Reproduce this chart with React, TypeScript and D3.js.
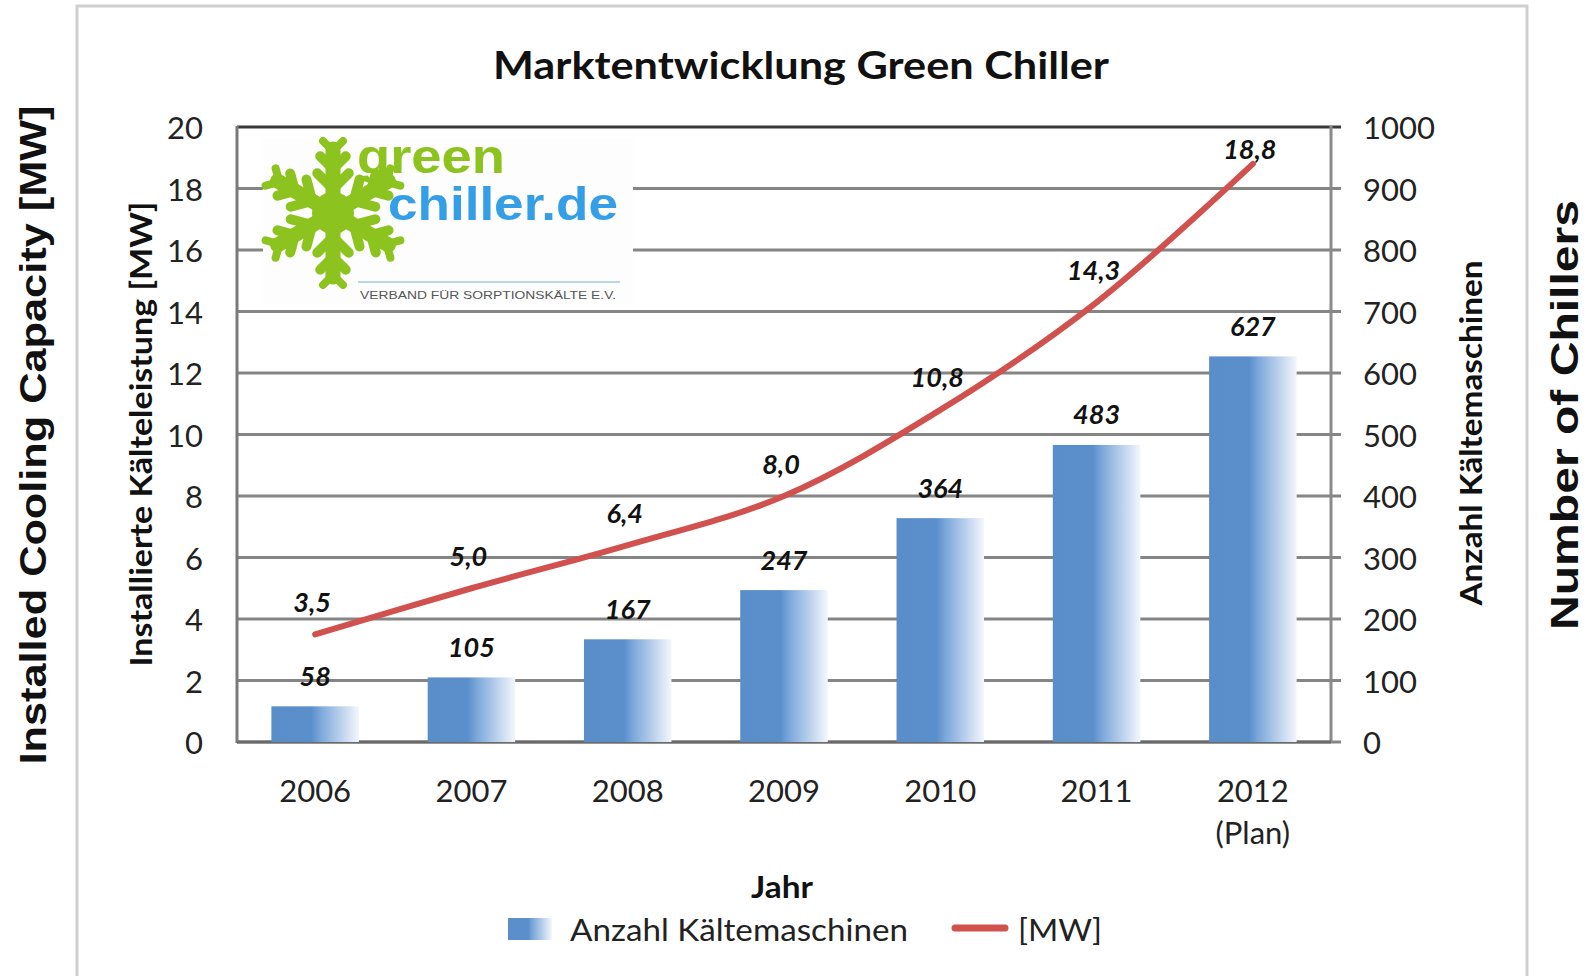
import React, { useRef, useEffect } from 'react';
import * as d3 from 'd3';

const years = ['2006', '2007', '2008', '2009', '2010', '2011', '2012'];
const yearSub = ['', '', '', '', '', '', '(Plan)'];
const chillers = [58, 105, 167, 247, 364, 483, 627];
const capacityMW = [3.5, 5.0, 6.4, 8.0, 10.8, 14.3, 18.8];
const leftTicks = [0, 2, 4, 6, 8, 10, 12, 14, 16, 18, 20];
const rightTicks = [0, 100, 200, 300, 400, 500, 600, 700, 800, 900, 1000];

const W = 1588;
const H = 976;
const FONT = 'Lato, "Open Sans", sans-serif';

const App = () => {
    const svgRef = useRef<SVGSVGElement>(null);

    useEffect(() => {
        const svg = d3.select(svgRef.current);
        svg.selectAll('*').remove();

        const left = 237, right = 1331, top = 127, bottom = 742;

        const x = d3.scaleBand<string>()
            .domain(years)
            .range([left, right])
            .paddingInner(0.44)
            .paddingOuter(0.22);
        const yL = d3.scaleLinear().domain([0, 20]).range([bottom, top]);
        const yR = d3.scaleLinear().domain([0, 1000]).range([bottom, top]);

        // gradient for the bars
        const defs = svg.append('defs');
        const grad = defs.append('linearGradient').attr('id', 'barGrad')
            .attr('x1', '0%').attr('x2', '100%').attr('y1', '0%').attr('y2', '0%');
        grad.append('stop').attr('offset', '0%').attr('stop-color', '#5a8ecb');
        grad.append('stop').attr('offset', '46%').attr('stop-color', '#5b8fcc');
        grad.append('stop').attr('offset', '56%').attr('stop-color', '#7ba7da');
        grad.append('stop').attr('offset', '100%').attr('stop-color', '#f3f7fc');

        // outer frame
        svg.append('rect')
            .attr('x', 77).attr('y', 6)
            .attr('width', 1527 - 77).attr('height', H + 20)
            .attr('fill', '#fff')
            .attr('stroke', '#cfcfcf').attr('stroke-width', 3);

        // gridlines
        svg.append('g').selectAll('line')
            .data(leftTicks)
            .enter().append('line')
            .attr('x1', left).attr('x2', right + 10)
            .attr('y1', d => yL(d)).attr('y2', d => yL(d))
            .attr('stroke', d => d === 20 ? '#3a3a3a' : '#858585')
            .attr('stroke-width', 3);

        // axes
        svg.append('line').attr('x1', left).attr('x2', left)
            .attr('y1', top - 1).attr('y2', bottom + 1)
            .attr('stroke', '#7a7a7a').attr('stroke-width', 3);
        svg.append('line').attr('x1', right).attr('x2', right)
            .attr('y1', top - 1).attr('y2', bottom + 1)
            .attr('stroke', '#8a8a8a').attr('stroke-width', 3);
        svg.append('line').attr('x1', left).attr('x2', right)
            .attr('y1', bottom).attr('y2', bottom)
            .attr('stroke', '#6a6a6a').attr('stroke-width', 3);

        // logo
        const logo = svg.append('g');
        logo.append('rect').attr('x', 263).attr('y', 139)
            .attr('width', 370).attr('height', 165).attr('fill', '#fdfdfd');
        const cx = 333, cy = 213, R = 70;
        const flake = logo.append('g')
            .attr('transform', `translate(${cx},${cy})`)
            .attr('stroke', '#8cc31f').attr('fill', 'none')
            .attr('stroke-linecap', 'round');
        [90, 30, -30, -90, -150, 150].forEach(a => {
            const arm = flake.append('g').attr('transform', `rotate(${-a})`);
            arm.append('line').attr('x1', 0).attr('y1', 0).attr('x2', R - 6).attr('y2', 0)
                .attr('stroke-width', 15);
            [[24, 21], [44, 17]].forEach(([d, l]) => {
                arm.append('path')
                    .attr('d', `M${d + l * 0.75},${-l * 0.75} L${d},0 L${d + l * 0.75},${l * 0.75}`)
                    .attr('stroke-width', 10);
            });
            arm.append('path')
                .attr('d', `M${R + 2},-10 L${R - 8},0 L${R + 2},10`)
                .attr('stroke-width', 8);
        });
        flake.append('circle').attr('r', 21).attr('fill', '#8cc31f').attr('stroke', 'none');

        logo.append('text').attr('x', 357).attr('y', 173)
            .attr('textLength', 148).attr('lengthAdjust', 'spacingAndGlyphs')
            .style('font-family', '"Liberation Sans", Arial, sans-serif')
            .style('font-weight', 'bold').style('font-size', '48px')
            .attr('fill', '#8cc31f').text('green');
        logo.append('text').attr('x', 388).attr('y', 220)
            .attr('textLength', 230).attr('lengthAdjust', 'spacingAndGlyphs')
            .style('font-family', '"Liberation Sans", Arial, sans-serif')
            .style('font-weight', 'bold').style('font-size', '46px')
            .attr('fill', '#349fe6').text('chiller.de');
        logo.append('line').attr('x1', 358).attr('x2', 620)
            .attr('y1', 282).attr('y2', 282)
            .attr('stroke', '#bcd5ee').attr('stroke-width', 2);
        logo.append('text').attr('x', 360).attr('y', 299)
            .attr('textLength', 256).attr('lengthAdjust', 'spacingAndGlyphs')
            .style('font-family', '"Liberation Sans", Arial, sans-serif')
            .style('font-size', '11px')
            .attr('fill', '#555').text('VERBAND FÜR SORPTIONSKÄLTE E.V.');

        // bars
        svg.append('g').selectAll('rect')
            .data(chillers)
            .enter().append('rect')
            .attr('x', (d, i) => x(years[i])!)
            .attr('y', d => yR(d))
            .attr('width', x.bandwidth())
            .attr('height', d => bottom - yR(d))
            .attr('fill', 'url(#barGrad)');

        // line
        const pts: [number, number][] = capacityMW.map((v, i) => [x(years[i])! + x.bandwidth() / 2, yL(v)]);
        svg.append('path')
            .attr('d', d3.line().curve(d3.curveCatmullRom.alpha(0.5))(pts))
            .attr('fill', 'none')
            .attr('stroke', '#d0514d')
            .attr('stroke-width', 6)
            .attr('stroke-linecap', 'round');

        // data labels
        const lbl = (sel: any) => sel
            .attr('text-anchor', 'middle')
            .attr('dominant-baseline', 'central')
            .style('font-family', FONT)
            .style('font-weight', 'bold')
            .style('font-style', 'italic')
            .style('font-size', '27px')
            .attr('fill', '#111');
        svg.append('g').selectAll('text')
            .data(chillers)
            .enter().append('text')
            .call(lbl)
            .attr('x', (d, i) => x(years[i])! + x.bandwidth() / 2)
            .attr('y', d => yR(d) - 31)
            .text(d => String(d));
        svg.append('g').selectAll('text')
            .data(capacityMW)
            .enter().append('text')
            .call(lbl)
            .attr('x', (d, i) => x(years[i])! + x.bandwidth() / 2 - 3)
            .attr('y', d => Math.max(yL(d) - 33, top + 21))
            .text(d => d.toFixed(1).replace('.', ','));

        // tick labels
        svg.append('g').selectAll('text')
            .data(leftTicks)
            .enter().append('text')
            .attr('x', 203).attr('y', d => yL(d))
            .attr('text-anchor', 'end').attr('dominant-baseline', 'central')
            .style('font-family', FONT).style('font-size', '31px')
            .attr('fill', '#222')
            .text(d => String(d));
        svg.append('g').selectAll('text')
            .data(rightTicks)
            .enter().append('text')
            .attr('x', 1363).attr('y', d => yR(d))
            .attr('text-anchor', 'start').attr('dominant-baseline', 'central')
            .style('font-family', FONT).style('font-size', '31px')
            .attr('fill', '#222')
            .text(d => String(d));
        svg.append('g').selectAll('text')
            .data(years)
            .enter().append('text')
            .attr('x', d => x(d)! + x.bandwidth() / 2).attr('y', 790)
            .attr('text-anchor', 'middle').attr('dominant-baseline', 'central')
            .style('font-family', FONT).style('font-size', '31px')
            .attr('fill', '#222')
            .text(d => d);
        svg.append('g').selectAll('text')
            .data(yearSub)
            .enter().append('text')
            .attr('x', (d, i) => x(years[i])! + x.bandwidth() / 2).attr('y', 832)
            .attr('text-anchor', 'middle').attr('dominant-baseline', 'central')
            .style('font-family', FONT).style('font-size', '31px')
            .attr('fill', '#222')
            .text(d => d);

        // titles
        const txt = (tx: number, ty: number, s: string, size: number, len: number, rot = 0, bold = true, family = FONT) =>
            svg.append('text')
                .attr('transform', `translate(${tx},${ty}) rotate(${rot})`)
                .attr('text-anchor', 'middle').attr('dominant-baseline', 'central')
                .attr('textLength', len).attr('lengthAdjust', 'spacingAndGlyphs')
                .style('font-family', family).style('font-size', `${size}px`)
                .style('font-weight', bold ? 'bold' : 'normal')
                .attr('fill', '#111')
                .text(s);
        txt(801, 64, 'Marktentwicklung Green Chiller', 38, 616);
        txt(140, 434, 'Installierte Kälteleistung [MW]', 30, 465, -90);
        txt(1470, 433, 'Anzahl Kältemaschinen', 30, 345, -90);
        txt(782, 886, 'Jahr', 30, 62);
        txt(33, 435, 'Installed Cooling Capacity [MW]', 37, 659, -90, true, '"Liberation Sans", Arial, sans-serif');
        txt(1565, 415, 'Number of Chillers', 38, 430, -90, true, '"Liberation Sans", Arial, sans-serif');

        // legend
        svg.append('rect').attr('x', 508).attr('y', 918)
            .attr('width', 44).attr('height', 22).attr('fill', 'url(#barGrad)');
        svg.append('text').attr('x', 570).attr('y', 929)
            .attr('dominant-baseline', 'central')
            .attr('textLength', 338).attr('lengthAdjust', 'spacingAndGlyphs')
            .style('font-family', FONT).style('font-size', '31px')
            .attr('fill', '#222').text('Anzahl Kältemaschinen');
        svg.append('line').attr('x1', 955).attr('x2', 1005)
            .attr('y1', 928).attr('y2', 928)
            .attr('stroke', '#d0514d').attr('stroke-width', 7).attr('stroke-linecap', 'round');
        svg.append('text').attr('x', 1018).attr('y', 929)
            .attr('dominant-baseline', 'central')
            .attr('textLength', 84).attr('lengthAdjust', 'spacingAndGlyphs')
            .style('font-family', FONT).style('font-size', '31px')
            .attr('fill', '#222').text('[MW]');
    }, []);

    return (
        <svg ref={svgRef} width={W} height={H}
            style={{ position: 'absolute', left: 0, top: 0, background: '#fff' }} />
    );
};

export default App;
